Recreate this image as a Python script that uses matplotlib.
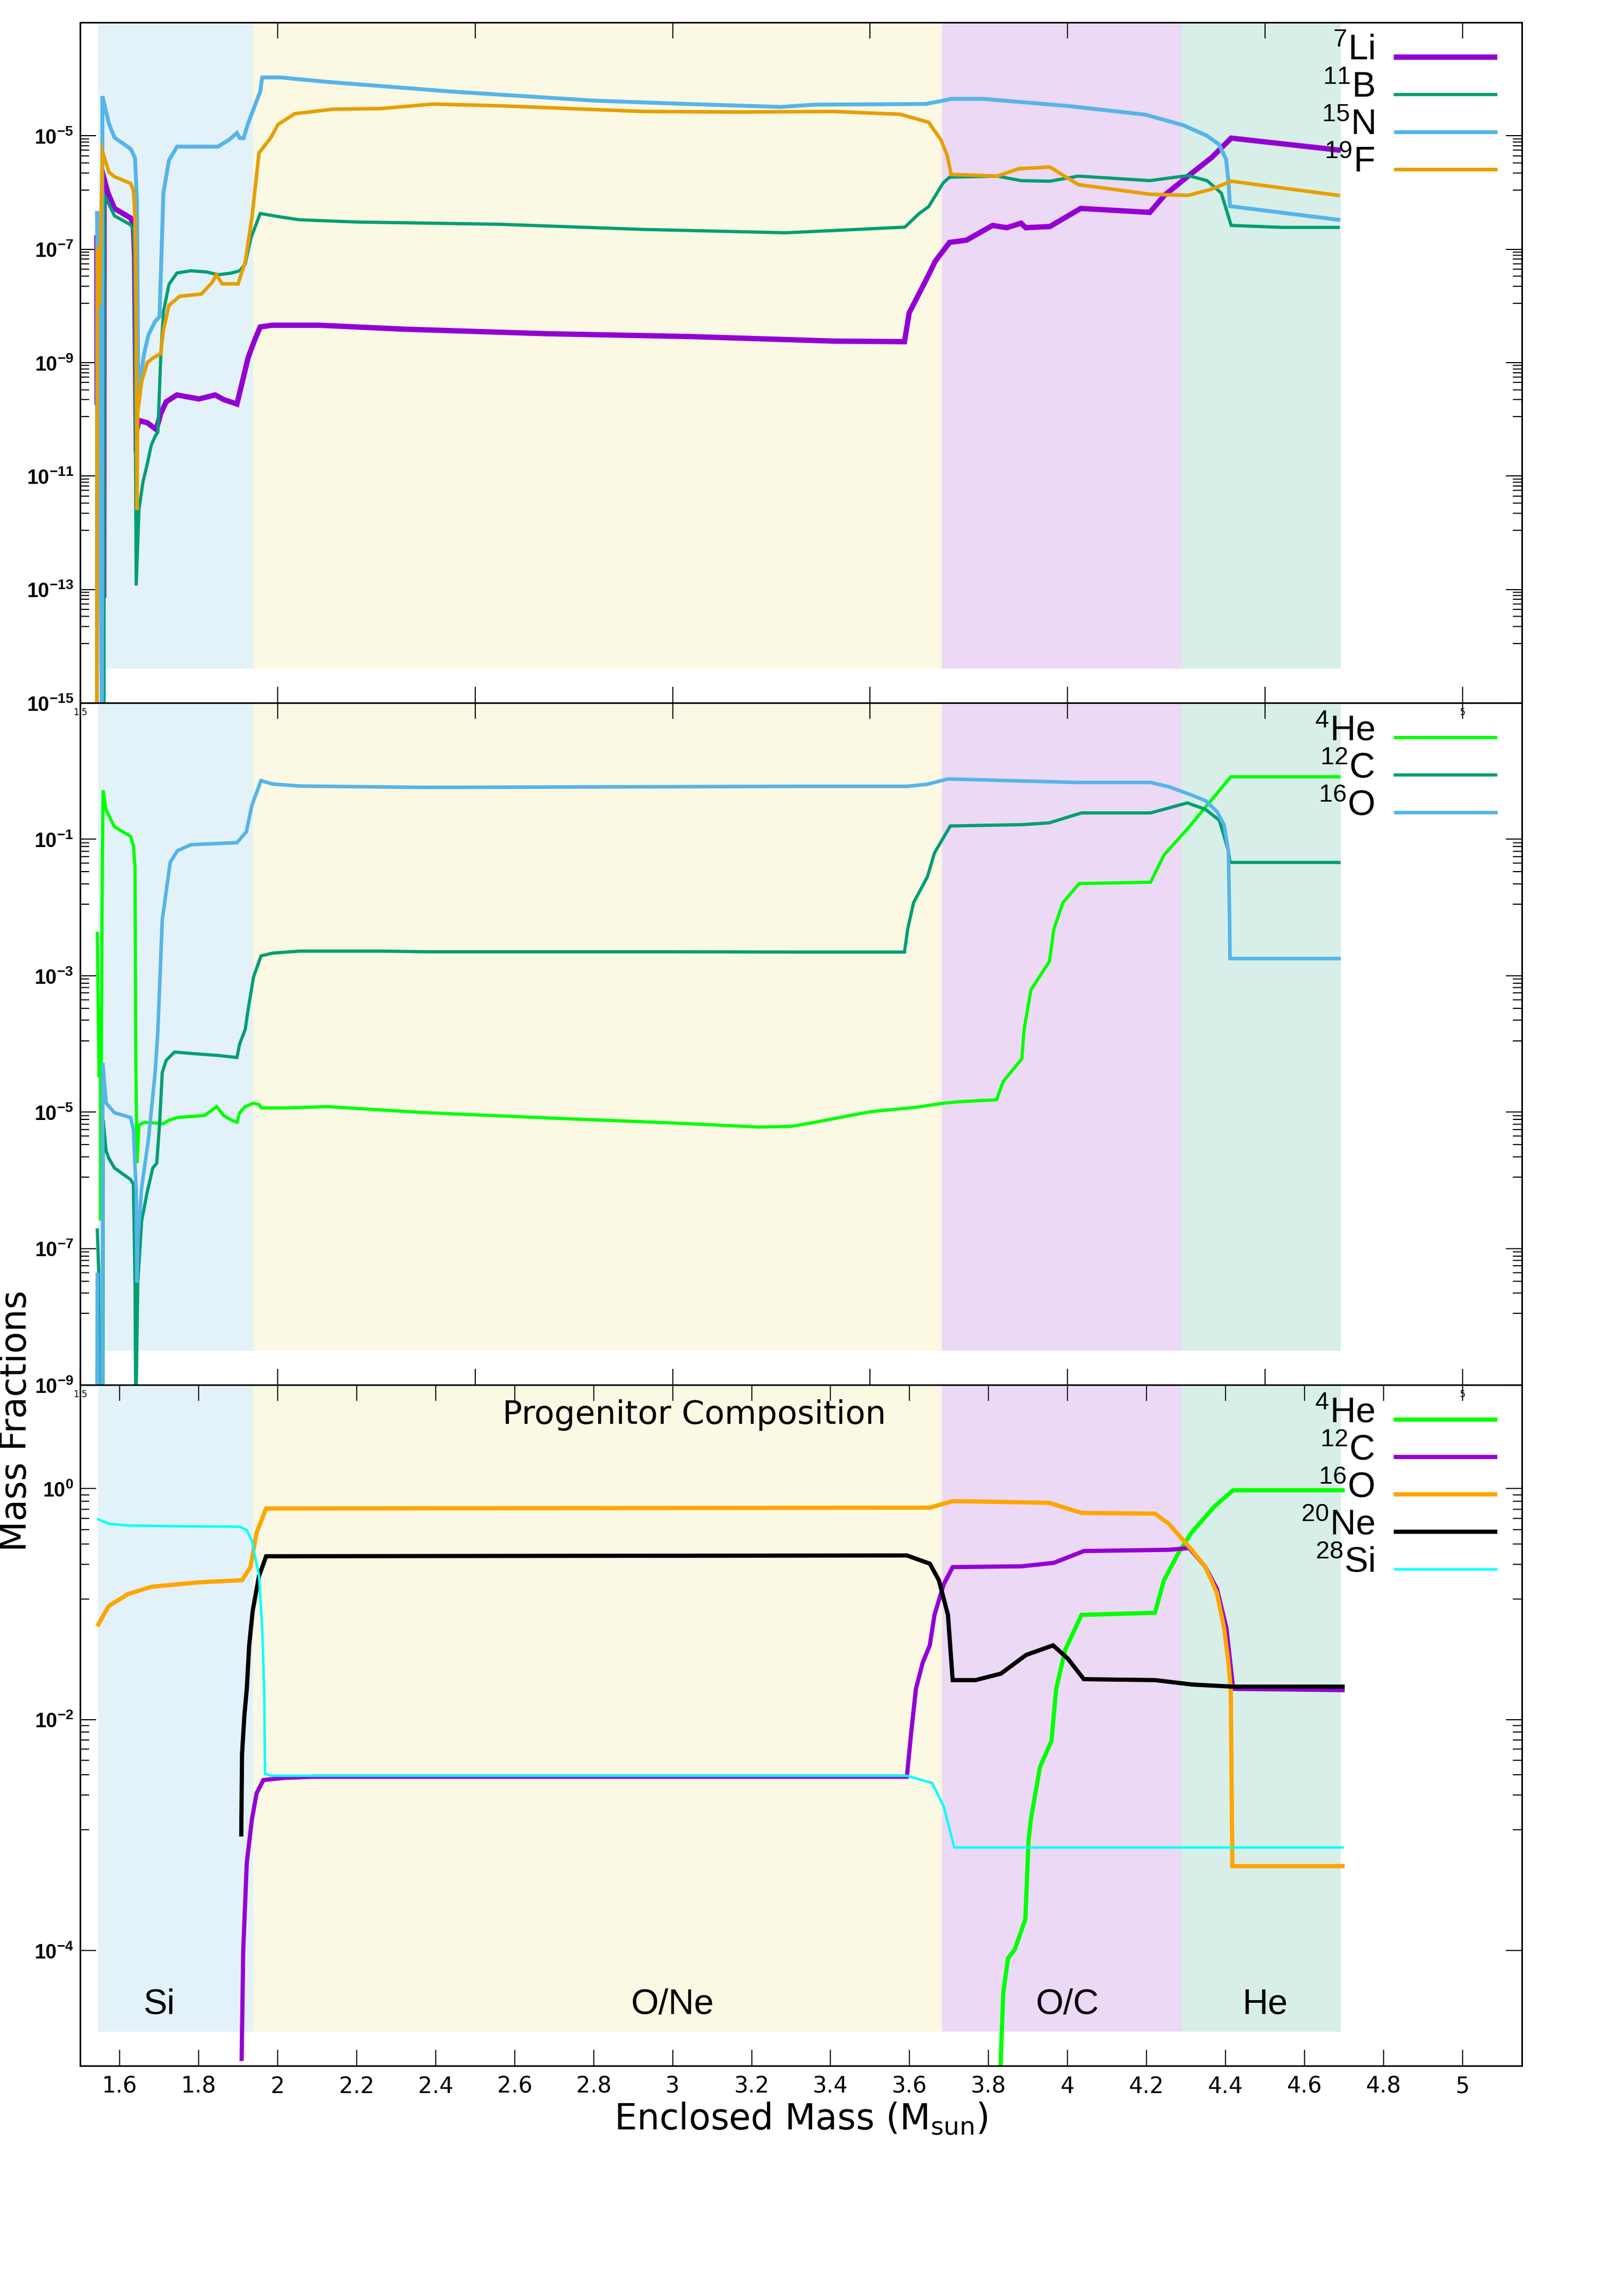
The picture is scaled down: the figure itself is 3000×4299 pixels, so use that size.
import numpy as np
import matplotlib
matplotlib.use("Agg")
import matplotlib.pyplot as plt
import matplotlib.transforms as mtransforms
from matplotlib.ticker import FixedLocator, FixedFormatter, NullFormatter

plt.rcParams['font.family'] = ['DejaVu Sans']
plt.rcParams['mathtext.fontset'] = 'custom'
plt.rcParams['mathtext.rm'] = 'Liberation Sans'
plt.rcParams['mathtext.bf'] = 'Liberation Sans:bold'
plt.rcParams['mathtext.sf'] = 'DejaVu Sans'
plt.rcParams['mathtext.it'] = 'Liberation Sans:italic'

nan = np.nan

# ---------------- data (log10 of mass fraction vs enclosed mass) ----------------
# zones
ZONE_NAMES = ['Si', 'O/Ne', 'O/C', 'He']
ZONE_EDGES = [1.546, 1.938, 3.682, 4.289, 4.692]
ZONE_LABEL_X = [1.70, 3.00, 4.00, 4.50]
ZONE_COLORS = ['#E3F2F9', '#FBF9E3', '#ECD9F5', '#D7EFE8']

# top panel
LI7_M = [1.5425, 1.543, nan, 1.5598, 1.5605, 1.570, 1.587, 1.628, 1.635, 1.638, 1.642, 1.649, 1.670, 1.693,
         1.704, 1.718, 1.745, 1.801, 1.842, 1.863, 1.897, 1.911, 1.925, 1.942, 1.956, 1.987, 2.104, 2.321,
         2.683, 3.045, 3.407, 3.587, 3.599, 3.641, 3.665, 3.701, 3.744, 3.810, 3.846, 3.882, 3.894, 3.955,
         4.033, 4.208, 4.245, 4.305, 4.365, 4.414, 4.685]
LI7_LOG = [-6.8, -9.7, nan, -13.1, -5.75, -6.0, -6.28, -6.45, -6.57, -7.14, -10.22, -10.02, -10.06, -10.18,
           -9.9, -9.69, -9.57, -9.64, -9.57, -9.65, -9.73, -9.33, -8.92, -8.6, -8.37, -8.34, -8.34, -8.41,
           -8.49, -8.54, -8.62, -8.63, -8.12, -7.55, -7.21, -6.88, -6.84, -6.58, -6.62, -6.54, -6.62, -6.6,
           -6.28, -6.35, -6.05, -5.71, -5.38, -5.04, -5.25]

B11_M = [1.5605, 1.561, 1.5725, 1.587, 1.628, 1.635, 1.638, 1.642, 1.649, 1.659, 1.670, 1.680, 1.690, 1.697,
         1.704, 1.711, 1.725, 1.745, 1.780, 1.820, 1.849, 1.883, 1.904, 1.918, 1.932, 1.956, 2.007, 2.055,
         2.20, 2.562, 2.924, 3.286, 3.407, 3.588, 3.624, 3.648, 3.685, 3.701, 3.822, 3.882, 3.955, 4.027,
         4.208, 4.305, 4.353, 4.389, 4.414, 4.546, 4.685]
B11_LOG = [-16, -6.05, -6.2, -6.41, -6.57, -6.65, -7.14, -12.93, -11.59, -11.11, -10.79, -10.46, -10.30, -10.22,
           -8.92, -8.10, -7.62, -7.42, -7.38, -7.40, -7.45, -7.42, -7.38, -7.26, -6.81, -6.37, -6.43, -6.48,
           -6.52, -6.56, -6.65, -6.71, -6.67, -6.61, -6.37, -6.25, -5.83, -5.73, -5.71, -5.79, -5.80, -5.71,
           -5.79, -5.70, -5.79, -6.01, -6.58, -6.615, -6.615]

N15_M = [1.5425, 1.5432, 1.547, 1.5555, 1.5565, 1.573, 1.587, 1.628, 1.639, 1.644, 1.6475, 1.650, 1.662,
         1.673, 1.690, 1.701, 1.711, 1.725, 1.7455, 1.849, 1.877, 1.897, 1.904, 1.914, 1.925, 1.956, 1.961,
         2.007, 2.128, 2.442, 2.804, 3.045, 3.274, 3.359, 3.588, 3.641, 3.707, 3.786, 4.003, 4.196, 4.293,
         4.353, 4.383, 4.401, 4.407, 4.411, 4.685]
N15_LOG = [-16, -6.33, -6.97, -16, -4.30, -4.785, -5.03, -5.23, -5.39, -6.16, -9.65, -9.40, -8.84,
           -8.51, -8.27, -8.19, -6.00, -5.43, -5.19, -5.19, -5.07, -4.95, -5.04, -5.04, -4.785, -4.22, -3.97,
           -3.97, -4.05, -4.22, -4.38, -4.44, -4.49, -4.45, -4.44, -4.438, -4.348, -4.348, -4.475, -4.626, -4.813,
           -5.0, -5.15, -5.41, -5.79, -6.24, -6.48]

F19_M = [1.5425, 1.544, 1.549, 1.5565, 1.573, 1.587, 1.628, 1.635, 1.639, 1.642, 1.644, 1.6456, 1.656, 1.670,
         1.684, 1.704, 1.711, 1.725, 1.752, 1.807, 1.835, 1.845, 1.8595, 1.900, 1.918, 1.935, 1.953, 1.983,
         2.001, 2.043, 2.14, 2.26, 2.393, 2.562, 2.924, 3.166, 3.407, 3.576, 3.648, 3.679, 3.695, 3.705,
         3.822, 3.876, 3.955, 4.027, 4.208, 4.305, 4.365, 4.414, 4.685]
F19_LOG = [-16, -6.97, -8.0, -5.27, -5.64, -5.72, -5.84, -5.96, -6.41, -8.27, -11.6, -9.89, -9.33, -9.0,
           -8.92, -8.84, -8.43, -7.99, -7.83, -7.79, -7.58, -7.45, -7.61, -7.61, -7.22, -6.44, -5.30, -5.03,
           -4.80, -4.61, -4.53, -4.52, -4.44, -4.47, -4.57, -4.58, -4.57, -4.62, -4.76, -5.07, -5.34, -5.68,
           -5.71, -5.58, -5.55, -5.86, -6.03, -6.05, -5.94, -5.80, -6.05]

# middle panel
HE4_MID_M = [1.5436, 1.548, 1.5515, 1.552, 1.5555, 1.558, 1.566, 1.587, 1.628, 1.635, 1.639, 1.641, 1.644,
             1.649, 1.663, 1.711, 1.725, 1.746, 1.815, 1.832, 1.846, 1.863, 1.884, 1.897, 1.904, 1.918, 1.939,
             1.953, 1.959, 2.022, 2.125, 2.379, 2.70, 3.00, 3.22, 3.30, 3.36, 3.441, 3.50, 3.616, 3.686, 3.721,
             3.82, 3.837, 3.884, 3.89, 3.907, 3.954, 3.965, 3.988, 4.029, 4.21, 4.244, 4.303, 4.349, 4.413, 4.687]
HE4_MID_LOG = [-2.38, -4.49, -3.99, -6.59, -2.11, -0.28, -0.573, -0.818, -0.958, -1.10, -1.41, -4.21, -5.75,
               -5.19, -5.15, -5.17, -5.12, -5.08, -5.05, -4.98, -4.92, -5.05, -5.12, -5.15, -5.01, -4.92, -4.87,
               -4.89, -4.94, -4.94, -4.92, -5.01, -5.09, -5.16, -5.22, -5.21, -5.15, -5.06, -4.995, -4.93, -4.87, -4.85,
               -4.82, -4.55, -4.22, -3.78, -3.21, -2.79, -2.32, -1.93, -1.65, -1.63, -1.23, -0.85, -0.53, -0.084, -0.084]

C12_MID_M = [1.5436, 1.547, 1.5495, nan, 1.5575, 1.5585, 1.566, 1.573, 1.587, 1.628, 1.635, 1.639, 1.641, 1.646,
             1.656, 1.670, 1.684, 1.694, 1.701, 1.708, 1.718, 1.739, 1.780, 1.849, 1.897, 1.904, 1.918, 1.925,
             1.939, 1.958, 1.987, 2.056, 2.263, 2.379, 3.00, 3.325, 3.587, 3.595, 3.61, 3.645, 3.663, 3.703,
             3.884, 3.953, 4.035, 4.21, 4.303, 4.349, 4.384, 4.407, 4.411, 4.687]
C12_MID_LOG = [-6.73, -7.32, -10, nan, -10, -5.12, -5.57, -5.68, -5.82, -5.99, -6.06, -7.50, -9.5, -7.50,
               -6.59, -6.17, -5.82, -5.75, -5.19, -4.42, -4.24, -4.12, -4.14, -4.17, -4.20, -4.0, -3.79, -3.51,
               -3.02, -2.71, -2.67, -2.64, -2.64, -2.65, -2.65, -2.654, -2.654, -2.32, -1.93, -1.55, -1.20, -0.805,
               -0.786, -0.760, -0.614, -0.614, -0.467, -0.562, -0.722, -1.17, -1.34, -1.34]

O16_MID_M = [1.5425, 1.5436, 1.547, nan, 1.556, 1.5575, 1.566, 1.587, 1.628, 1.635, 1.642, 1.644, 1.646, 1.656,
             1.673, 1.690, 1.697, 1.708, 1.718, 1.728, 1.746, 1.780, 1.897, 1.921, 1.935, 1.958, 1.987, 2.056,
             2.379, 3.325, 3.593, 3.645, 3.697, 4.023, 4.21, 4.256, 4.314, 4.349, 4.378, 4.396, 4.407, 4.41,
             4.411, 4.687]
O16_MID_LOG = [-10, -7.36, -10, nan, -10, -4.28, -4.87, -5.01, -5.08, -5.26, -6.17, -7.50, -6.87, -6.10,
               -5.40, -4.42, -3.79, -2.18, -1.76, -1.34, -1.17, -1.08, -1.05, -0.89, -0.50, -0.14, -0.19, -0.22,
               -0.24, -0.224, -0.224, -0.193, -0.116, -0.167, -0.167, -0.23, -0.352, -0.435, -0.594, -0.786, -1.17,
               -2.19, -2.75, -2.75]

# bottom panel (progenitor)
HE4_BOT_M = [3.829, 3.837, 3.849, 3.866, 3.893, 3.901, 3.907, 3.93, 3.959, 3.971, 3.994, 4.035, 4.221, 4.244,
             4.279, 4.314, 4.372, 4.419, 4.696]
HE4_BOT_LOG = [-5.1, -4.369, -4.068, -3.993, -3.729, -3.05, -2.863, -2.411, -2.185, -1.734, -1.395, -1.093,
               -1.075, -0.792, -0.566, -0.378, -0.152, -0.013, -0.013]

C12_BOT_M = [1.909, 1.913, 1.922, 1.935, 1.947, 1.964, 2.018, 2.09, 3.593, 3.604, 3.616, 3.633, 3.651, 3.663,
             3.686, 3.709, 3.884, 3.965, 4.041, 4.256, 4.308, 4.349, 4.378, 4.402, 4.419, 4.696]
C12_BOT_LOG = [-4.94, -3.993, -3.24, -2.863, -2.637, -2.524, -2.505, -2.495, -2.495, -2.11, -1.733, -1.508,
               -1.357, -1.093, -0.83, -0.679, -0.672, -0.642, -0.54, -0.529, -0.514, -0.679, -0.868, -1.206,
               -1.734, -1.745]

O16_BOT_M = [1.546, 1.572, 1.621, 1.681, 1.802, 1.91, 1.931, 1.947, 1.971, 3.651, 3.709, 3.953, 4.035, 4.221,
             4.256, 4.314, 4.349, 4.378, 4.396, 4.407, 4.413, 4.417, 4.696]
O16_BOT_LOG = [-1.176, -1.018, -0.913, -0.849, -0.811, -0.792, -0.679, -0.378, -0.171, -0.164, -0.107, -0.122,
               -0.209, -0.216, -0.303, -0.529, -0.679, -0.905, -1.206, -1.508, -1.734, -3.27, -3.27]

NE20_BOT_M = [1.908, 1.910, 1.916, 1.922, 1.928, 1.937, 1.953, 1.971, 3.593, 3.651, 3.674, 3.697, 3.709, 3.767,
              3.831, 3.895, 3.963, 4.0, 4.041, 4.221, 4.314, 4.419, 4.696]
NE20_BOT_LOG = [-2.995, -2.298, -1.96, -1.734, -1.357, -1.056, -0.755, -0.585, -0.578, -0.649, -0.792, -1.093,
                -1.658, -1.658, -1.602, -1.44, -1.357, -1.47, -1.65, -1.658, -1.696, -1.715, -1.715]

SI28_BOT_M = [1.546, 1.572, 1.621, 1.741, 1.904, 1.922, 1.935, 1.953, 1.961, 1.966, 1.968, 1.983, 3.593, 3.657,
              3.686, 3.713, 4.696]
SI28_BOT_LOG = [-0.265, -0.303, -0.318, -0.325, -0.329, -0.359, -0.453, -0.755, -1.206, -1.734, -2.468, -2.487,
                -2.487, -2.55, -2.75, -3.108, -3.108]

# axis settings
XLIM = (1.5, 5.15)
YLIM_TOP = (1e-15, 1e-3)
YLIM_MID = (1e-9, 1e1)
YLIM_BOT = (1e-5, 10 ** 0.9)
YMAJ_TOP = [-15, -13, -11, -9, -7, -5]
YMAJ_MID = [-9, -7, -5, -3, -1]
YMAJ_BOT = [-4, -2, 0]
YMINOR_DECADES_TOP = [-13, -11, -9, -7, -5]
YMINOR_DECADES_MID = [-7, -5, -3, -1]
YMINOR_DECADES_BOT = [-2, 0]
XT_UPPER = [1.5, 2.0, 2.5, 3.0, 3.5, 4.0, 4.5, 5.0]
XT_UPPER_LABELS = ['1.5', '', '', '', '', '', '', '5']
XT_BOT = [1.6, 1.8, 2.0, 2.2, 2.4, 2.6, 2.8, 3.0, 3.2, 3.4, 3.6, 3.8, 4.0, 4.2, 4.4, 4.6, 4.8, 5.0]
XT_BOT_LABELS = ['1.6', '1.8', '2', '2.2', '2.4', '2.6', '2.8', '3', '3.2', '3.4', '3.6', '3.8', '4',
                 '4.2', '4.4', '4.6', '4.8', '5']

TOP_LABELS = [r'$^{7}$Li', r'$^{11}$B', r'$^{15}$N', r'$^{19}$F']
MID_LABELS = [r'$^{4}$He', r'$^{12}$C', r'$^{16}$O']
BOT_LABELS = [r'$^{4}$He', r'$^{12}$C', r'$^{16}$O', r'$^{20}$Ne', r'$^{28}$Si']

TOP_COLORS = ['#9400D3', '#009E73', '#56B4E9', '#E69F00']
MID_COLORS = ['#00FF00', '#009E73', '#56B4E9']
BOT_COLORS = ['#00FF00', '#9400D3', '#FFA500', '#000000', '#00FFFF']
TOP_LW = [2.4, 1.45, 1.75, 1.6]
MID_LW = [1.45, 1.45, 1.6]
BOT_LW = [1.9, 1.9, 1.9, 1.9, 1.1]

# ---------------- figure ----------------
W, H = 3000, 4300
fig = plt.figure(figsize=(10, 14.3333), dpi=300)
fig.patch.set_facecolor('white')


def rect(top_px, bot_px):
    return [150 / W, 1 - bot_px / H, 2700 / W, (bot_px - top_px) / H]


ax_top = fig.add_axes(rect(43, 1317))
ax_mid = fig.add_axes(rect(1317, 2594))
ax_bot = fig.add_axes(rect(2594, 3869))


def style_axis(ax, ylim, majors, minor_decades, xt, xtl, xfs):
    ax.set_facecolor('none')
    ax.set_yscale('log')
    ax.set_xlim(*XLIM)
    ax.set_ylim(*ylim)
    for sp in ax.spines.values():
        sp.set_linewidth(0.7)
    ax.yaxis.set_major_locator(FixedLocator([10.0 ** k for k in majors]))
    ax.yaxis.set_major_formatter(FixedFormatter([r'$\mathbf{10^{%d}}$' % k for k in majors]))
    minors = [10.0 ** k * (1 - j / 9) for k in minor_decades for j in range(1, 9)]
    ax.yaxis.set_minor_locator(FixedLocator(minors))
    ax.yaxis.set_minor_formatter(NullFormatter())
    ax.xaxis.set_major_locator(FixedLocator(xt))
    ax.xaxis.set_major_formatter(FixedFormatter(xtl))
    ax.xaxis.set_minor_locator(FixedLocator([]))
    ax.tick_params(which='both', direction='in', top=True, right=True, width=0.5)
    ax.tick_params(which='major', length=7.2)
    ax.tick_params(axis='y', which='minor', length=4)
    ax.tick_params(axis='y', which='major', labelsize=9, pad=3)
    ax.tick_params(axis='x', which='major', labelsize=xfs, pad=2 if xfs < 6 else 4)
    for e0, e1, c in zip(ZONE_EDGES[:-1], ZONE_EDGES[1:], ZONE_COLORS):
        ax.axvspan(e0, e1, ymin=0.05, ymax=1.0, color=c, lw=0, zorder=0)


style_axis(ax_top, YLIM_TOP, YMAJ_TOP, YMINOR_DECADES_TOP, XT_UPPER, XT_UPPER_LABELS, 4)
style_axis(ax_mid, YLIM_MID, YMAJ_MID, YMINOR_DECADES_MID, XT_UPPER, XT_UPPER_LABELS, 4)
style_axis(ax_bot, YLIM_BOT, YMAJ_BOT, YMINOR_DECADES_BOT, XT_BOT, XT_BOT_LABELS, 10)


def draw(ax, m, lg, color, lw):
    ax.plot(np.array(m), 10.0 ** np.array(lg), color=color, lw=lw, zorder=2,
            solid_joinstyle='miter')


for (m, lg), c, w in zip([(LI7_M, LI7_LOG), (B11_M, B11_LOG), (N15_M, N15_LOG), (F19_M, F19_LOG)],
                         TOP_COLORS, TOP_LW):
    draw(ax_top, m, lg, c, w)
for (m, lg), c, w in zip([(HE4_MID_M, HE4_MID_LOG), (C12_MID_M, C12_MID_LOG), (O16_MID_M, O16_MID_LOG)],
                         MID_COLORS, MID_LW):
    draw(ax_mid, m, lg, c, w)
for (m, lg), c, w in zip([(HE4_BOT_M, HE4_BOT_LOG), (C12_BOT_M, C12_BOT_LOG), (O16_BOT_M, O16_BOT_LOG),
                          (NE20_BOT_M, NE20_BOT_LOG), (SI28_BOT_M, SI28_BOT_LOG)],
                         BOT_COLORS, BOT_LW):
    draw(ax_bot, m, lg, c, w)


def legend(ax, labels, colors, widths):
    for i, (lab, c, w) in enumerate(zip(labels, colors, widths)):
        y = 0.949 - i * 0.0549
        ax.plot([0.911, 0.983], [y, y], transform=ax.transAxes, color=c, lw=w,
                clip_on=False, solid_capstyle='butt', zorder=3)
        ax.text(0.8978, y - 0.0035, lab, transform=ax.transAxes, ha='right', va='baseline',
                fontsize=16, family='Liberation Sans', zorder=4)


legend(ax_top, TOP_LABELS, TOP_COLORS, TOP_LW)
legend(ax_mid, MID_LABELS, MID_COLORS, MID_LW)
legend(ax_bot, BOT_LABELS, BOT_COLORS, BOT_LW)

# zone labels and title in bottom panel
trans = mtransforms.blended_transform_factory(ax_bot.transData, ax_bot.transAxes)
for name, x in zip(ZONE_NAMES, ZONE_LABEL_X):
    ax_bot.text(x, 0.077, name, transform=trans, ha='center', va='baseline', fontsize=16,
                family='Liberation Sans', zorder=4)
ax_bot.text(3.055, 0.9435, 'Progenitor Composition', transform=trans, ha='center', va='baseline',
            fontsize=14.7, zorder=4)

fig.text(1500 / W, 1 - 3987 / H, r'Enclosed Mass (M$_{\mathsf{sun}}$)', ha='center', va='baseline',
         fontsize=16)
fig.text(30 / W, 1 - 2660 / H, 'Mass Fractions', rotation=90, ha='center', va='center', fontsize=16)

fig.savefig('out.png', dpi=300, facecolor='white')
